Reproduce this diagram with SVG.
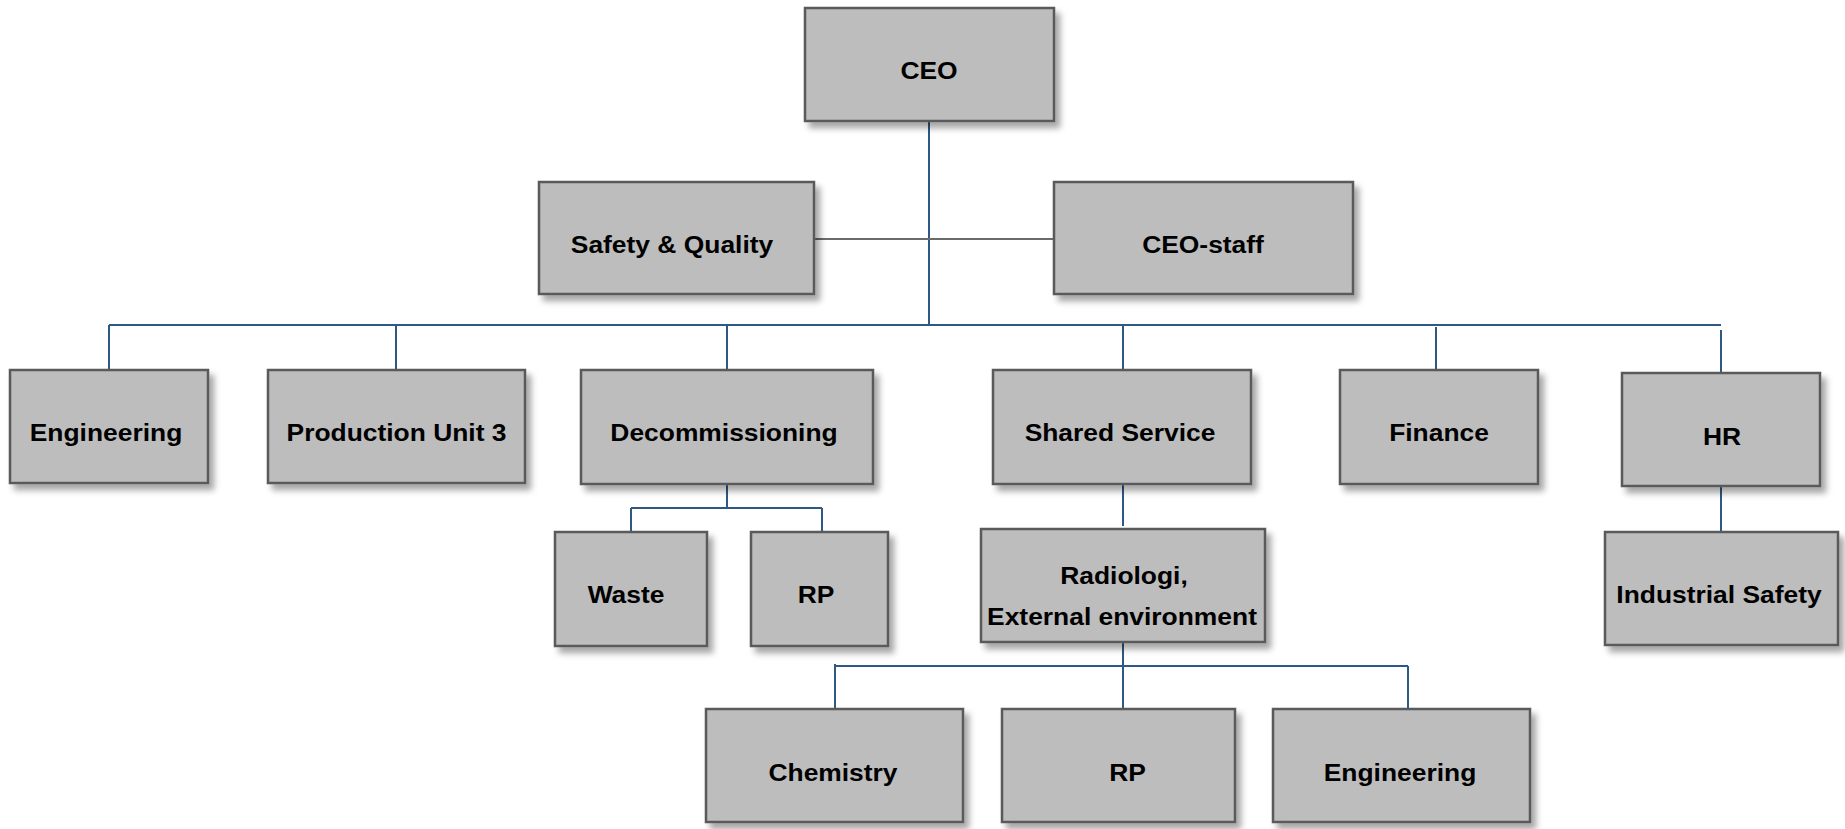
<svg xmlns="http://www.w3.org/2000/svg" width="1845" height="829" viewBox="0 0 1845 829">
<defs>
<filter id="sh" x="-10%" y="-10%" width="130%" height="140%">
<feDropShadow dx="5" dy="6" stdDeviation="3" flood-color="#000" flood-opacity="0.35"/>
</filter>
<style>
.box{fill:#bdbdbd;stroke:#5a5a5a;stroke-width:2.5;filter:url(#sh)}
.t{font-family:"Liberation Sans",Arial,sans-serif;font-weight:bold;font-size:24px;fill:#000;text-anchor:middle}
.c{fill:none;stroke:#2e5984;stroke-width:2}
.g{fill:none;stroke:#6b6b6b;stroke-width:2}
</style>
</defs>
<rect width="1845" height="829" fill="#fff"/>
<g id="connectors">
<path class="c" d="M929 121V325"/>
<path class="g" d="M814 239H1054"/>
<path class="c" d="M109 325H1721"/>
<path class="c" d="M109 325V370M396 325V370M727 325V370M1123 325V370M1436 327V370M1721 330V374"/>
<path class="c" d="M727 484V508M631 508H822M631 508V532M822 508V538"/>
<path class="c" d="M1123 481V526"/>
<path class="c" d="M1721 486V532"/>
<path class="c" d="M1123 642V711M835 666H1408M835 664V709M1408 666V711"/>
</g>
<g id="ceo"><rect class="box" x="805" y="8" width="249" height="113"/><text class="t" transform="translate(929 79) scale(1.1 1)">CEO</text></g>
<g id="safety-quality"><rect class="box" x="539" y="182" width="275" height="112"/><text class="t" transform="translate(672 253) scale(1.1 1)">Safety &amp; Quality</text></g>
<g id="ceo-staff"><rect class="box" x="1054" y="182" width="299" height="112"/><text class="t" transform="translate(1203 253) scale(1.1 1)">CEO-staff</text></g>
<g id="engineering"><rect class="box" x="10" y="370" width="198" height="113"/><text class="t" transform="translate(106 441) scale(1.1 1)">Engineering</text></g>
<g id="production-unit-3"><rect class="box" x="268" y="370" width="257" height="113"/><text class="t" transform="translate(396.5 441) scale(1.1 1)">Production Unit 3</text></g>
<g id="decommissioning"><rect class="box" x="581" y="370" width="292" height="114"/><text class="t" transform="translate(724 441) scale(1.1 1)">Decommissioning</text></g>
<g id="shared-service"><rect class="box" x="993" y="370" width="258" height="114"/><text class="t" transform="translate(1120 441) scale(1.1 1)">Shared Service</text></g>
<g id="finance"><rect class="box" x="1340" y="370" width="198" height="114"/><text class="t" transform="translate(1439 441) scale(1.1 1)">Finance</text></g>
<g id="hr"><rect class="box" x="1622" y="373" width="198" height="113"/><text class="t" transform="translate(1722 444.5) scale(1.1 1)">HR</text></g>
<g id="industrial-safety"><rect class="box" x="1605" y="532" width="233" height="113"/><text class="t" transform="translate(1719 603) scale(1.1 1)">Industrial Safety</text></g>
<g id="waste"><rect class="box" x="555" y="532" width="152" height="114"/><text class="t" transform="translate(626 603) scale(1.1 1)">Waste</text></g>
<g id="rp-decom"><rect class="box" x="751" y="532" width="137" height="114"/><text class="t" transform="translate(816 603) scale(1.1 1)">RP</text></g>
<g id="radiologi"><rect class="box" x="981" y="529" width="284" height="113"/><text class="t" transform="translate(1124 584) scale(1.1 1)">Radiologi,</text><text class="t" transform="translate(1122 625) scale(1.1 1)">External environment</text></g>
<g id="chemistry"><rect class="box" x="706" y="709" width="257" height="113"/><text class="t" transform="translate(833 781) scale(1.1 1)">Chemistry</text></g>
<g id="rp-shared"><rect class="box" x="1002" y="709" width="233" height="113"/><text class="t" transform="translate(1127.5 781) scale(1.1 1)">RP</text></g>
<g id="engineering-2"><rect class="box" x="1273" y="709" width="257" height="113"/><text class="t" transform="translate(1400 781) scale(1.1 1)">Engineering</text></g>
</svg>
